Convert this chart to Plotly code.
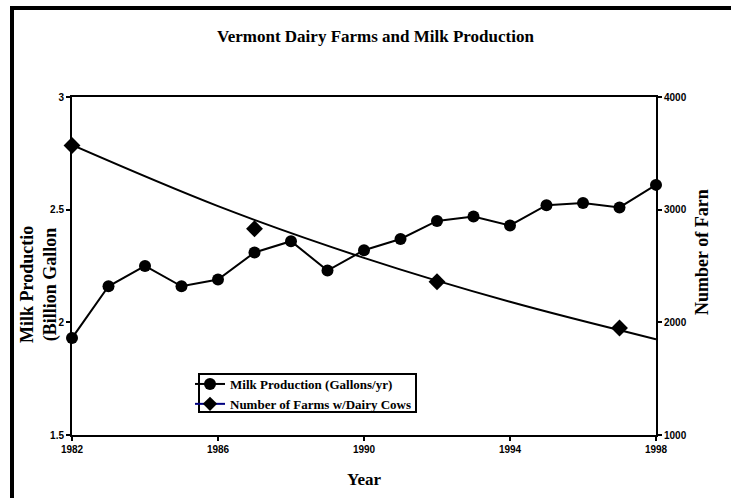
import plotly.graph_objects as go

# ---- data ----
years = [1982, 1983, 1984, 1985, 1986, 1987, 1988, 1989, 1990,
         1991, 1992, 1993, 1994, 1995, 1996, 1997, 1998]
milk_production = [1.93, 2.16, 2.25, 2.16, 2.19, 2.31, 2.36, 2.23, 2.32,
                   2.37, 2.45, 2.47, 2.43, 2.52, 2.53, 2.51, 2.61]
farm_years = [1982, 1987, 1992, 1997]
farm_counts = [3570, 2830, 2360, 1950]
trend_years = [1982, 1986, 1990, 1994, 1998]
trend_counts = [3574, 3031, 2572, 2182, 1850]
x_ticks = [1982, 1986, 1990, 1994, 1998]
y_left_ticks = [1.5, 2, 2.5, 3]
y_right_ticks = [1000, 2000, 3000, 4000]

W, H = 731, 498
L, R, T, B = 72, 75, 97, 63
PW, PH = W - L - R, H - T - B

def px(x):
    return (x - L) / PW

def py(y):
    return (H - B - y) / PH

SERIF = "Liberation Serif, Times New Roman, serif"
SANS = "Liberation Sans, Arial, sans-serif"

fig = go.Figure()

fig.add_trace(go.Scatter(
    x=years, y=milk_production, mode="lines+markers",
    name="Milk Production (Gallons/yr)",
    line=dict(color="black", width=2),
    marker=dict(symbol="circle", size=12, color="black"),
    cliponaxis=False, yaxis="y"))

fig.add_trace(go.Scatter(
    x=trend_years, y=trend_counts, mode="lines",
    line=dict(color="black", width=2, shape="spline"), showlegend=False,
    yaxis="y2", hoverinfo="skip"))

fig.add_trace(go.Scatter(
    x=farm_years, y=farm_counts, mode="markers",
    marker=dict(symbol="diamond", size=13, color="black"),
    cliponaxis=False, showlegend=False, yaxis="y2"))

# legend entry for farms (dark blue line with diamond)
fig.add_trace(go.Scatter(
    x=[None], y=[None], mode="lines+markers",
    name="Number of Farms w/Dairy Cows",
    line=dict(color="#000080", width=2),
    marker=dict(symbol="diamond", size=11, color="black"),
    yaxis="y2"))

fig.update_layout(
    width=W, height=H,
    margin=dict(l=L, r=R, t=T, b=B),
    paper_bgcolor="white", plot_bgcolor="white",
    showlegend=True,
    legend=dict(
        x=px(190), y=py(369), xanchor="left", yanchor="top",
        bgcolor="rgba(0,0,0,0)", borderwidth=0,
        font=dict(family=SERIF, size=13, color="black", weight="bold"),
        tracegroupgap=0, itemwidth=30),
    xaxis=dict(
        range=[1982, 1998], tickvals=x_ticks, showgrid=False, zeroline=False,
        showline=True, linecolor="black", linewidth=2, mirror=True,
        ticks="outside", ticklen=4, tickwidth=2, tickcolor="black",
        tickfont=dict(family=SANS, size=10, color="black", weight="bold")),
    yaxis=dict(
        range=[1.5, 3], tickvals=y_left_ticks, showgrid=False, zeroline=False,
        showline=True, linecolor="black", linewidth=2,
        ticks="outside", ticklen=4, tickwidth=2, tickcolor="black",
        tickfont=dict(family=SANS, size=10, color="black", weight="bold")),
    yaxis2=dict(
        range=[1000, 4000], tickvals=y_right_ticks, overlaying="y", side="right",
        showgrid=False, zeroline=False, showline=True, linecolor="black",
        linewidth=2, ticks="outside", ticklen=4, tickwidth=2, tickcolor="black",
        tickfont=dict(family=SANS, size=10, color="black", weight="bold")),
    annotations=[
        dict(text="<b>Vermont Dairy Farms and Milk Production</b>",
             x=px(375), y=py(37), xref="paper", yref="paper",
             showarrow=False, xanchor="center", yanchor="middle",
             font=dict(family=SERIF, size=17, color="black")),
        dict(text="<b>Year</b>", x=px(364), y=py(479), xref="paper", yref="paper",
             showarrow=False, xanchor="center", yanchor="middle",
             font=dict(family=SERIF, size=17, color="black")),
        dict(text="<b>Milk Productio<br>(Billion Gallon</b>", x=px(39), y=py(285),
             xref="paper", yref="paper", showarrow=False, textangle=-90,
             xanchor="center", yanchor="middle",
             font=dict(family=SERIF, size=18, color="black")),
        dict(text="<b>Number of Farn</b>", x=px(702), y=py(252),
             xref="paper", yref="paper", showarrow=False, textangle=-90,
             xanchor="center", yanchor="middle",
             font=dict(family=SERIF, size=18, color="black")),
    ],
    shapes=[
        dict(type="rect", xref="paper", yref="paper",
             x0=px(12), y0=py(520), x1=px(760), y1=py(8),
             line=dict(color="black", width=4), fillcolor="rgba(0,0,0,0)",
             layer="above"),
        dict(type="rect", xref="paper", yref="paper",
             x0=px(199), y0=py(412), x1=px(416), y1=py(374),
             line=dict(color="black", width=2), fillcolor="white",
             layer="above"),
    ],
)

fig.write_html("out.html", config={"displayModeBar": False},
               post_script="document.body.style.margin='0';document.body.style.padding='0';")
